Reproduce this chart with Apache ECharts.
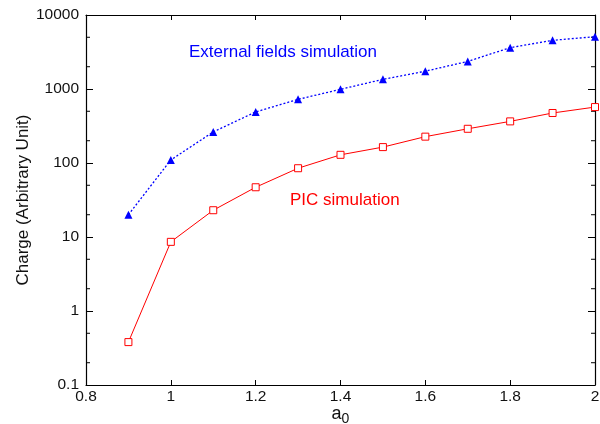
<!DOCTYPE html>
<html>
<head>
<meta charset="utf-8">
<script src="https://cdn.jsdelivr.net/npm/echarts@6/dist/echarts.min.js"></script>
<style>
html, body { margin: 0; padding: 0; background: #fff; }
#chartmain { width: 600px; height: 424px; }
</style>
</head>
<body>
<div id="chartmain"></div>
<script>
var a0 = [0.9, 1.0, 1.1, 1.2, 1.3, 1.4, 1.5, 1.6, 1.7, 1.8, 1.9, 2.0];
var externalFields = [20, 110, 263, 490, 725, 990, 1350, 1740, 2360, 3620, 4550, 5090];
var picSim = [0.38, 8.6, 23, 47, 85, 129, 164, 227, 290, 365, 474, 570];
var minorTicks = [0.2, 0.5, 2, 5, 20, 50, 200, 500, 2000, 5000];

function pairs(xs, ys) {
    var out = [];
    for (var i = 0; i < xs.length; i++) out.push([xs[i], ys[i]]);
    return out;
}

var FONT = 'Liberation Sans, Arial, sans-serif';
var labelFont = { fontFamily: FONT, fontSize: 15.5, color: '#111' };

var option = {
    animation: false,
    backgroundColor: '#fff',
    grid: { left: 86, right: 5, top: 15, bottom: 39, outerBoundsMode: 'none', containLabel: false },
    xAxis: [{
        type: 'value', min: 0.8, max: 2, interval: 0.2,
        axisLine: { lineStyle: { color: '#000', width: 1.2 } },
        axisTick: { inside: true, length: 5, lineStyle: { color: '#000' } },
        splitLine: { show: false },
        axisLabel: Object.assign({ margin: 4, formatter: function(v) { return String(+v.toFixed(1)); } }, labelFont),
        name: '{a|a}{s|0}',
        nameLocation: 'middle',
        nameGap: 17,
        nameMoveOverlap: false,
        nameTextStyle: {
            rich: {
                a: { fontFamily: FONT, fontSize: 18, color: '#111' },
                s: { fontFamily: FONT, fontSize: 14, color: '#111', padding: [10, 0, 0, 0] }
            }
        }
    }, {
        type: 'value', min: 0.8, max: 2, interval: 0.2, position: 'top',
        axisLine: { lineStyle: { color: '#000', width: 1.2 } },
        axisTick: { inside: true, length: 5, lineStyle: { color: '#000' } },
        axisLabel: { show: false },
        splitLine: { show: false }
    }],
    yAxis: [{
        type: 'log', logBase: 10, min: 0.1, max: 10000,
        axisLine: { show: true, lineStyle: { color: '#000', width: 1.2 } },
        axisTick: { show: true, inside: true, length: 7, lineStyle: { color: '#000' } },
        splitLine: { show: false },
        axisLabel: Object.assign({ margin: 7, formatter: function(v) { return String(+v.toPrecision(6)); } }, labelFont),
        name: 'Charge (Arbitrary Unit)',
        nameLocation: 'middle',
        nameGap: 54,
        nameMoveOverlap: false,
        nameTextStyle: { fontFamily: FONT, fontSize: 17, color: '#111' }
    }, {
        type: 'log', logBase: 10, min: 0.1, max: 10000, position: 'right',
        axisLine: { show: true, lineStyle: { color: '#000', width: 1.2 } },
        axisTick: { show: true, inside: true, length: 7, lineStyle: { color: '#000' } },
        axisLabel: { show: false },
        splitLine: { show: false }
    }],
    series: [{
        name: 'External fields simulation',
        type: 'line',
        data: pairs(a0, externalFields),
        symbol: 'triangle',
        symbolSize: 8,
        lineStyle: { color: '#0000ff', width: 1.3, type: [2, 2] },
        itemStyle: { color: '#0000ff' },
        z: 3
    }, {
        name: 'PIC simulation',
        type: 'line',
        data: pairs(a0, picSim),
        symbol: 'rect',
        symbolSize: 7,
        lineStyle: { color: '#ff0000', width: 1 },
        itemStyle: { color: '#fff', borderColor: '#ff0000', borderWidth: 1 },
        z: 3
    }, {
        type: 'custom',
        silent: true,
        data: minorTicks.map(function(v) { return [v]; }),
        renderItem: function(params, api) {
            var left = api.coord([0.8, api.value(0)]);
            var right = api.coord([2, api.value(0)]);
            var st = { stroke: '#000', lineWidth: 1 };
            return {
                type: 'group',
                children: [
                    { type: 'line', shape: { x1: left[0], y1: left[1], x2: left[0] + 4, y2: left[1] }, style: st },
                    { type: 'line', shape: { x1: right[0], y1: right[1], x2: right[0] - 4, y2: right[1] }, style: st }
                ]
            };
        },
        encode: { y: 0 },
        z: 2
    }],
    graphic: [{
        type: 'text', x: 189, y: 52,
        style: { text: 'External fields simulation', fill: '#0000ff', font: '17px "Liberation Sans", Arial, sans-serif', verticalAlign: 'middle' }
    }, {
        type: 'text', x: 290, y: 200,
        style: { text: 'PIC simulation', fill: '#ff0000', font: '17px "Liberation Sans", Arial, sans-serif', verticalAlign: 'middle' }
    }]
};

var myChart = echarts.init(document.getElementById('chartmain'));
myChart.setOption(option);
</script>
</body>
</html>
